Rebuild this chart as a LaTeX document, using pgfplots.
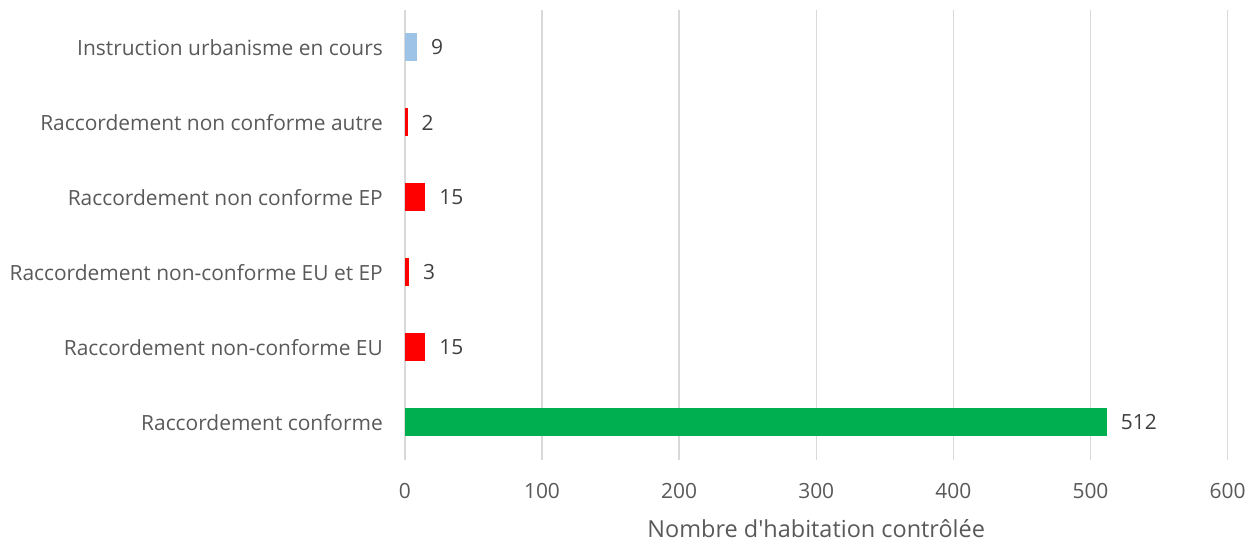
\documentclass[border=0pt]{standalone}
\usepackage{pgfplots}
\pgfplotsset{compat=1.18}
\usepackage{fontspec}
\setmainfont{Open Sans}
\definecolor{txt}{HTML}{595959}
\definecolor{val}{HTML}{404040}
\definecolor{gridc}{HTML}{D9D9D9}
\definecolor{cgreen}{HTML}{00B050}
\definecolor{cred}{HTML}{FF0000}
\definecolor{cblue}{HTML}{9DC3E6}
\begin{document}
\begin{tikzpicture}
\begin{axis}[
  scale only axis,
  width=617.25pt, height=337.5pt,
  xmin=0, xmax=600, ymin=-0.5, ymax=5.5,
  xtick={0,100,...,600},
  ytick={0,1,2,3,4,5},
  yticklabels={Raccordement conforme,Raccordement non-conforme EU,Raccordement non-conforme EU et EP,Raccordement non conforme EP,Raccordement non conforme autre,Instruction urbanisme en cours},
  major tick length=0pt,
  axis line style={draw=none},
  xmajorgrids, grid style={gridc, line width=1.1pt},
  font=\fontsize{15.7}{18}\selectfont,
  tick label style={txt, font=\fontsize{15.7}{18}\selectfont},
  xticklabel style={yshift=-14pt},
  yticklabel style={xshift=-13pt},
  xlabel={Nombre d\textquotesingle habitation contrôlée},
  xlabel style={txt, font=\fontsize{17.6}{20}\selectfont, yshift=-9pt},
  xbar, bar width=21pt, bar shift=0pt,
  nodes near coords,
  nodes near coords style={val, font=\fontsize{15.7}{18}\selectfont, anchor=west, xshift=7pt},
  /pgf/number format/assume math mode=true,
  clip=false,
]
\addplot[fill=cgreen, draw=none] coordinates {(512,0)};
\addplot[fill=cred, draw=none] coordinates {(15,1)};
\addplot[fill=cred, draw=none] coordinates {(3,2)};
\addplot[fill=cred, draw=none] coordinates {(15,3)};
\addplot[fill=cred, draw=none] coordinates {(2,4)};
\addplot[fill=cblue, draw=none] coordinates {(9,5)};
\end{axis}
\path[use as bounding box] (-303.75pt,-60.75pt) rectangle (633.75pt,345pt);
\end{tikzpicture}
\end{document}
